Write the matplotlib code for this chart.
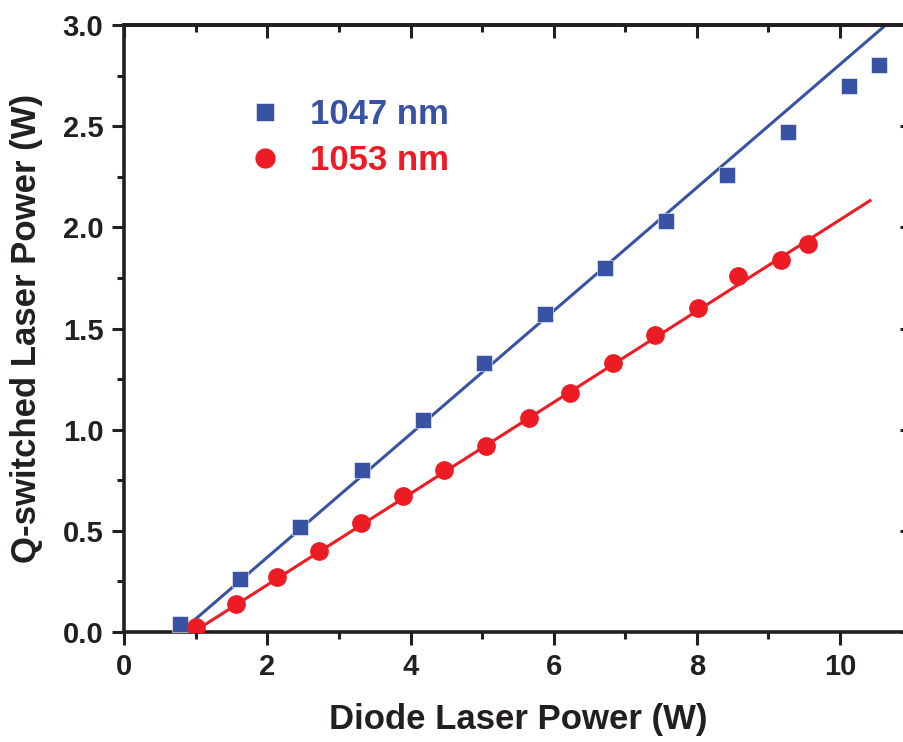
import numpy as np
import matplotlib.pyplot as plt
from matplotlib.ticker import MultipleLocator

# diode pump power (W) vs Q-switched output power (W)
pump_1047 = [0.78, 1.62, 2.46, 3.32, 4.18, 5.02, 5.88, 6.72, 7.57, 8.42, 9.27, 10.13, 10.55]
power_1047 = [0.04, 0.26, 0.52, 0.80, 1.05, 1.33, 1.57, 1.80, 2.03, 2.26, 2.47, 2.70, 2.80]

pump_1053 = [1.00, 1.56, 2.13, 2.72, 3.31, 3.90, 4.47, 5.06, 5.65, 6.23, 6.83, 7.42, 8.01, 8.58, 9.17, 9.55]
power_1053 = [0.025, 0.14, 0.27, 0.40, 0.54, 0.67, 0.80, 0.92, 1.06, 1.18, 1.33, 1.47, 1.60, 1.76, 1.84, 1.92]

# linear fits: slope (W/W), threshold (W), and the pump range drawn
fit_1047 = [0.3044, 0.785]
fit_1047_range = [0.87, 11.0]
fit_1053 = [0.2255, 0.966]
fit_1053_range = [1.01, 10.42]

labels = ['1047 nm', '1053 nm']
blue = '#3953a4'
red = '#ed1c24'
ink = '#231f20'

plt.rcParams['font.family'] = ['Liberation Sans', 'DejaVu Sans']
plt.rcParams['font.weight'] = 'bold'
plt.rcParams['axes.labelweight'] = 'bold'

fig = plt.figure(figsize=(9.04, 7.42), dpi=100)
# axes reaches past the right edge like the cropped original
ax = fig.add_axes([124.3 / 904, 1 - 632 / 742, (911.5 - 124.3) / 904, (632 - 25) / 742])

# fit lines
x1 = np.array(fit_1047_range)
ax.plot(x1, fit_1047[0] * (x1 - fit_1047[1]), color=blue, lw=2.2, zorder=2)
x2 = np.array(fit_1053_range)
ax.plot(x2, fit_1053[0] * (x2 - fit_1053[1]), color=red, lw=2.2, zorder=2)

# measured points
ax.plot(pump_1047, power_1047, ls='none', marker='s', ms=12, color=blue,
        mec='white', mew=0.4, label=labels[0], zorder=3)
ax.plot(pump_1053, power_1053, ls='none', marker='o', ms=13.5, color=red,
        mec=red, mew=0, label=labels[1], zorder=3)

ax.set_xlim(0, 11)
ax.set_ylim(0, 3.0)
ax.xaxis.set_major_locator(MultipleLocator(2))
ax.xaxis.set_minor_locator(MultipleLocator(1))
ax.yaxis.set_major_locator(MultipleLocator(0.5))
ax.yaxis.set_minor_locator(MultipleLocator(0.25))
ax.yaxis.set_major_formatter(plt.FormatStrFormatter('%.1f'))

for sp in ax.spines.values():
    sp.set_linewidth(2.6)
    sp.set_color(ink)
ax.tick_params(which='both', direction='out', width=2.2, color=ink,
               labelsize=21, labelcolor=ink, pad=6)
ax.tick_params(which='major', length=9)
ax.tick_params(which='minor', length=5)

# mirrored ticks on top and right point inward
top = ax.secondary_xaxis('top')
top.xaxis.set_major_locator(MultipleLocator(2))
top.xaxis.set_minor_locator(MultipleLocator(1))
top.tick_params(which='both', direction='in', width=2.2, color=ink, labeltop=False)
top.tick_params(which='major', length=9)
top.tick_params(which='minor', length=5)
top.spines['top'].set_linewidth(2.6)
right = ax.secondary_yaxis('right')
right.yaxis.set_major_locator(MultipleLocator(0.5))
right.yaxis.set_minor_locator(MultipleLocator(0.25))
right.tick_params(which='both', direction='in', width=2.2, color=ink, labelright=False)
right.tick_params(which='major', length=9)
right.tick_params(which='minor', length=5)

ax.set_xlabel('Diode Laser Power (W)', fontsize=25, color=ink, labelpad=16)
ax.set_ylabel('Q-switched Laser Power (W)', fontsize=25, color=ink, labelpad=14)

leg = ax.legend(loc='upper left', bbox_to_anchor=(216 / 904, 1 - 67 / 742),
                bbox_transform=fig.transFigure, frameon=False, fontsize=25,
                handlelength=1.0, handletextpad=0.8, labelspacing=0.38,
                borderpad=0.4, labelcolor='markerfacecolor', markerscale=1.08)

fig.savefig('out.png', dpi=100)
